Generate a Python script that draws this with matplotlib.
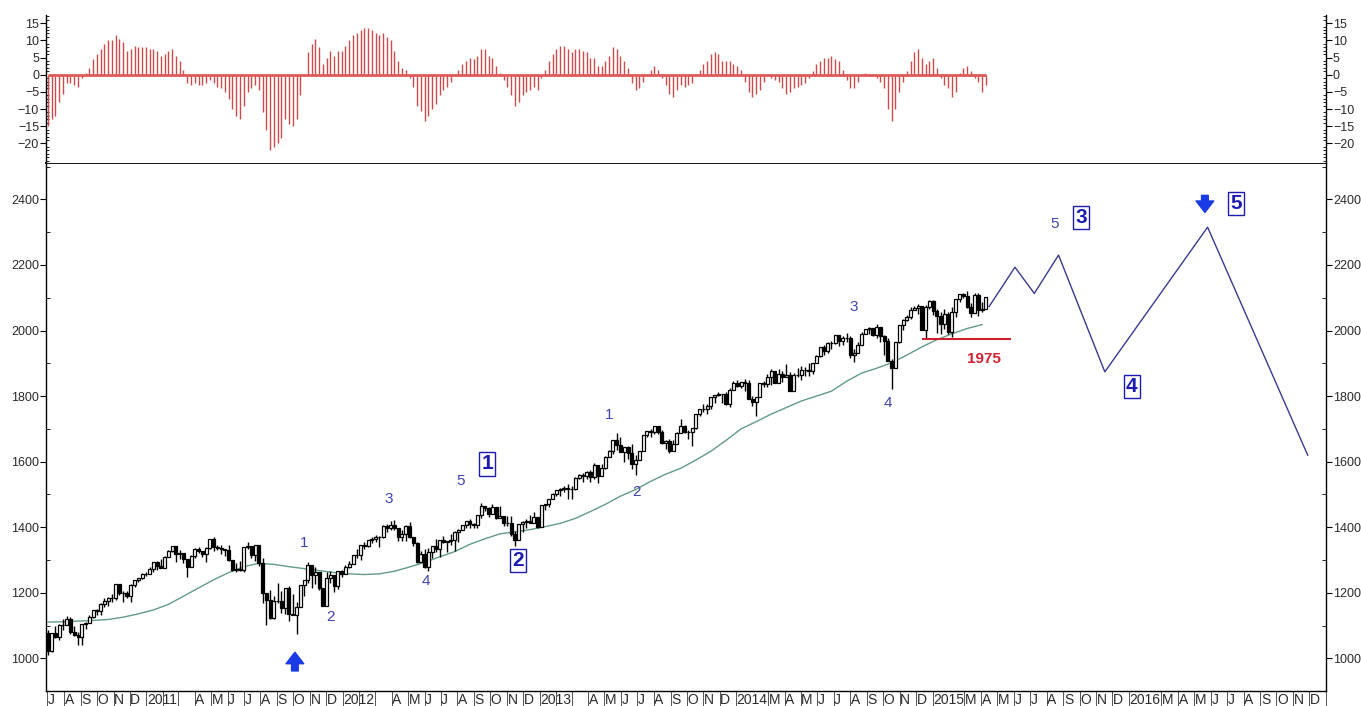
import matplotlib
matplotlib.use('Agg')
import matplotlib.pyplot as plt
import numpy as np
import pandas as pd

plt.rcParams['font.family'] = ['Liberation Sans', 'DejaVu Sans']

# ---------------- data ----------------
week_dates = pd.date_range('2010-07-02', periods=250, freq='W-FRI')

first_open = 1076.8
closes = [
    1022.6, 1078.0, 1064.9, 1102.7, 1101.6, 1121.6, 1079.3, 1071.7, 1064.6, 1104.5,
    1109.6, 1125.6, 1148.7, 1146.2, 1165.2, 1176.2, 1183.1, 1183.3, 1225.9, 1199.2,
    1199.7, 1189.4, 1224.7, 1240.4, 1243.9, 1256.8, 1257.6,
    1271.5, 1293.2, 1283.4, 1276.3, 1310.9, 1329.2, 1343.0, 1319.9, 1321.2, 1304.3,
    1279.2, 1313.8, 1332.4, 1328.2, 1319.7, 1337.4, 1363.6, 1340.2, 1337.8, 1333.3,
    1331.1, 1300.2, 1271.0, 1271.5, 1268.5, 1339.7, 1343.8, 1316.1, 1345.0, 1292.3,
    1199.4, 1178.8, 1123.5, 1176.8, 1174.0, 1154.2, 1216.0, 1136.4, 1131.4, 1155.5,
    1224.6, 1238.3, 1285.1, 1253.2, 1263.9, 1215.7, 1158.7, 1244.3, 1255.2, 1219.7,
    1265.3, 1257.6,
    1277.8, 1289.1, 1315.4, 1316.3, 1344.9, 1342.6, 1361.2, 1365.7, 1369.6, 1370.9,
    1404.2, 1397.1, 1408.5, 1398.1, 1370.3, 1378.5, 1403.4, 1369.1, 1353.4, 1295.2,
    1317.8, 1278.0, 1325.7, 1342.8, 1335.0, 1362.2, 1354.7, 1356.8, 1362.7, 1386.0,
    1391.0, 1405.9, 1418.2, 1411.1, 1406.6, 1437.9, 1465.8, 1460.2, 1440.7, 1460.9,
    1428.6, 1433.2, 1411.9, 1414.2, 1379.9, 1359.9, 1409.2, 1416.2, 1418.1, 1413.6,
    1430.2, 1402.4,
    1466.5, 1472.1, 1486.0, 1503.0, 1513.2, 1517.9, 1519.8, 1515.6, 1518.2, 1551.2,
    1560.7, 1556.9, 1569.2, 1553.3, 1588.9, 1555.3, 1582.2, 1614.4, 1633.7, 1667.5,
    1649.6, 1630.7, 1643.4, 1626.7, 1592.4, 1606.3, 1631.9, 1680.2, 1692.1, 1691.7,
    1709.7, 1691.4, 1655.8, 1663.5, 1633.0, 1655.2, 1688.0, 1709.9, 1691.8, 1690.5,
    1703.2, 1744.5, 1759.8, 1761.6, 1770.6, 1798.2, 1804.8, 1805.8, 1805.1, 1775.3,
    1818.3, 1841.4,
    1831.4, 1842.4, 1838.7, 1790.3, 1782.6, 1797.0, 1838.6, 1836.3, 1859.5, 1878.0,
    1841.1, 1866.5, 1857.6, 1865.1, 1815.7, 1864.9, 1863.4, 1881.1, 1878.5, 1877.9,
    1900.5, 1923.6, 1949.4, 1936.2, 1962.9, 1961.0, 1985.4, 1967.6, 1978.2, 1978.3,
    1925.2, 1931.6, 1955.1, 1988.4, 2003.4, 2007.7, 1985.5, 2010.4, 1982.9, 1967.9,
    1906.1, 1886.8, 1964.6, 2018.1, 2031.9, 2039.8, 2063.5, 2067.6, 2075.4, 2002.3,
    2070.7, 2088.8,
    2058.2, 2044.8, 2019.4, 2051.8, 1995.0, 2055.5, 2097.0, 2110.3, 2104.5, 2071.3,
    2053.4, 2108.1, 2061.0, 2067.0, 2102.1,
]
highs = [
    1086.0, 1078.5, 1099.0, 1103.7, 1120.9, 1129.2, 1127.3, 1100.0, 1081.0, 1105.1,
    1110.9, 1131.5, 1148.9, 1151.4, 1167.7, 1184.4, 1186.7, 1196.1, 1227.1, 1227.1,
    1206.4, 1207.1, 1225.6, 1240.4, 1246.7, 1259.3, 1262.6,
    1278.2, 1293.2, 1296.7, 1302.7, 1311.0, 1330.8, 1344.1, 1339.0, 1332.3, 1322.4,
    1304.3, 1314.8, 1337.9, 1339.5, 1328.2, 1339.9, 1364.6, 1370.6, 1346.8, 1346.2,
    1334.5, 1345.2, 1300.2, 1292.5, 1298.6, 1341.0, 1356.5, 1343.8, 1347.0, 1344.3,
    1307.4, 1199.4, 1208.5, 1190.7, 1230.7, 1204.4, 1216.0, 1220.4, 1195.9, 1171.4,
    1224.6, 1238.4, 1292.7, 1285.1, 1277.6, 1264.3, 1215.7, 1264.9, 1267.1, 1255.2,
    1265.4, 1269.4,
    1284.6, 1296.8, 1315.5, 1333.5, 1345.3, 1354.3, 1361.2, 1368.9, 1378.0, 1374.0,
    1405.9, 1409.8, 1419.2, 1422.4, 1398.1, 1392.8, 1406.6, 1415.3, 1369.1, 1353.7,
    1328.5, 1334.9, 1335.5, 1343.4, 1363.5, 1362.2, 1374.8, 1356.8, 1380.4, 1389.2,
    1394.2, 1407.1, 1418.7, 1426.7, 1413.5, 1438.0, 1474.5, 1465.8, 1463.2, 1470.0,
    1460.9, 1464.0, 1433.2, 1434.3, 1433.4, 1388.8, 1409.2, 1419.7, 1424.0, 1438.6,
    1448.0, 1430.2,
    1467.9, 1472.3, 1486.0, 1503.3, 1514.4, 1518.3, 1524.7, 1530.9, 1525.8, 1552.5,
    1563.6, 1564.9, 1570.3, 1573.7, 1597.4, 1588.9, 1592.6, 1618.5, 1635.0, 1667.5,
    1687.2, 1674.2, 1644.4, 1648.7, 1654.2, 1620.0, 1632.1, 1680.2, 1693.1, 1698.8,
    1709.7, 1709.2, 1696.8, 1664.9, 1669.5, 1664.8, 1689.9, 1729.9, 1712.5, 1697.0,
    1703.4, 1745.3, 1759.8, 1775.2, 1774.5, 1798.2, 1804.8, 1813.6, 1805.8, 1811.5,
    1823.8, 1844.9,
    1849.4, 1843.2, 1850.8, 1849.3, 1798.8, 1798.0, 1840.8, 1847.5, 1867.9, 1883.6,
    1878.0, 1883.9, 1875.2, 1897.3, 1872.5, 1869.6, 1884.9, 1891.3, 1889.1, 1902.2,
    1901.3, 1924.0, 1949.4, 1955.6, 1963.9, 1968.2, 1985.6, 1985.4, 1983.9, 1991.4,
    1984.6, 1942.9, 1964.0, 1994.8, 2005.0, 2011.2, 2007.7, 2019.3, 2010.4, 1986.1,
    1977.6, 1912.1, 1965.3, 2018.2, 2034.3, 2046.2, 2071.5, 2075.8, 2079.5, 2075.8,
    2077.9, 2093.6,
    2093.5, 2064.4, 2056.9, 2064.6, 2057.6, 2072.4, 2097.0, 2110.6, 2115.5, 2119.6,
    2083.0, 2114.9, 2113.0, 2088.3, 2102.6,
]
lows = [
    1010.9, 1018.4, 1063.0, 1056.9, 1088.0, 1105.0, 1075.3, 1069.0, 1039.7, 1040.9,
    1091.0, 1107.0, 1122.0, 1131.9, 1131.9, 1155.7, 1159.7, 1171.7, 1177.7, 1194.1,
    1173.0, 1185.0, 1173.6, 1217.2, 1232.8, 1242.8, 1252.6,
    1257.6, 1262.7, 1271.3, 1275.0, 1276.2, 1311.7, 1323.5, 1294.3, 1302.4, 1291.6,
    1249.1, 1279.0, 1307.6, 1322.9, 1309.9, 1294.7, 1332.5, 1329.2, 1329.9, 1318.5,
    1311.8, 1296.7, 1268.0, 1262.7, 1267.4, 1262.7, 1334.0, 1307.2, 1295.9, 1282.9,
    1168.1, 1101.5, 1121.0, 1121.1, 1169.6, 1140.1, 1136.1, 1114.2, 1131.1, 1074.8,
    1155.5, 1191.5, 1231.5, 1215.4, 1226.6, 1209.4, 1158.7, 1158.7, 1231.5, 1202.4,
    1212.6, 1248.6,
    1257.6, 1274.6, 1289.1, 1306.1, 1300.5, 1335.0, 1340.8, 1352.3, 1354.3, 1340.0,
    1366.7, 1385.8, 1391.6, 1393.1, 1357.4, 1358.8, 1358.8, 1367.7, 1343.1, 1291.7,
    1295.2, 1277.0, 1266.7, 1306.6, 1324.4, 1309.3, 1353.1, 1325.4, 1345.1, 1329.2,
    1354.7, 1391.0, 1397.3, 1398.0, 1397.0, 1396.6, 1429.1, 1449.6, 1432.7, 1440.7,
    1425.5, 1427.2, 1403.3, 1403.1, 1373.0, 1343.4, 1359.9, 1385.4, 1398.2, 1412.7,
    1413.6, 1398.1,
    1402.4, 1451.6, 1461.0, 1485.0, 1494.3, 1495.0, 1508.8, 1485.0, 1485.0, 1512.5,
    1547.4, 1538.6, 1546.2, 1539.5, 1548.3, 1536.0, 1555.3, 1576.9, 1614.4, 1622.7,
    1635.5, 1630.7, 1598.2, 1608.1, 1577.7, 1560.3, 1604.6, 1631.9, 1676.0, 1676.3,
    1684.2, 1684.9, 1654.2, 1639.4, 1627.5, 1633.0, 1655.2, 1688.0, 1687.0, 1670.4,
    1646.5, 1700.7, 1740.5, 1752.7, 1746.2, 1760.6, 1780.0, 1800.0, 1779.2, 1772.3,
    1767.4, 1818.3,
    1827.7, 1823.7, 1815.5, 1790.3, 1770.5, 1737.9, 1797.0, 1826.6, 1828.7, 1834.4,
    1839.6, 1839.5, 1842.1, 1857.6, 1814.4, 1815.7, 1858.7, 1850.6, 1859.8, 1862.4,
    1868.1, 1900.5, 1920.0, 1925.8, 1930.0, 1944.7, 1958.2, 1952.9, 1955.6, 1965.8,
    1916.4, 1904.8, 1931.6, 1955.1, 1988.4, 1990.0, 1983.5, 1978.5, 1965.0, 1926.0,
    1906.0, 1820.7, 1886.8, 1961.0, 2001.0, 2030.0, 2034.5, 2062.0, 2049.6, 2002.3,
    1972.6, 2066.3,
    2046.0, 1992.4, 1988.1, 2004.5, 1989.2, 1980.9, 2041.9, 2085.4, 2098.0, 2067.3,
    2039.7, 2053.4, 2045.5, 2057.6, 2067.0,
]

# oscillator (top panel), one value per week
osc_values = [
    -15, -13, -12, -8, -5.5, -2.5, -2.5, -3, -3.5, -1,
    0.5, 2, 4.5, 6, 7.5, 9, 10, 10, 11.5, 10.5,
    9.5, 7, 7.5, 8.5, 8, 8, 8, 7.5, 7.5, 7,
    5.5, 6, 7, 7.5, 5.5, 4, 1.5, -2.5, -3, -2.5,
    -3, -3, -2.5, -1.5, -2.5, -3.5, -4, -5, -7, -10,
    -12, -13, -9, -5, -4, -3, -4.5, -11, -16, -22,
    -21, -20, -18.5, -13, -14.5, -15, -13, -6, 0.3, 6.5,
    9, 10.5, 8, 3, 5, 7, 5.5, 7, 7, 8.5,
    10, 11.5, 12, 13, 13.5, 13.5, 13, 12, 11.5, 12,
    11, 10, 7, 4, 2, 1.5, -1, -3.5, -9, -10.5,
    -13.5, -12, -10, -8.5, -6, -4.5, -3.5, -2, 0.3, 1.5,
    3, 4, 5, 4.5, 5.5, 7.5, 7.5, 5.5, 5, 2.5,
    0.5, -1.5, -3.5, -6, -9, -8, -6, -5, -4.5, -3.5,
    -4.5, -1, 1.5, 4, 6, 7.5, 8.5, 8.5, 7.5, 6.5,
    7.5, 7.5, 7, 6.5, 5, 5, 2.5, 2.5, 4, 5.5,
    8,
    7.5, 5.5, 4, 2, -2.5, -4.5, -4, -2, 0.3, 1.5,
    2.5, 1.5, -1, -3, -5.5, -6.5, -4.5, -3, -3.5, -3,
    -2.5, 0.3, 1.5, 3, 4, 6, 6.5, 6, 4, 4,
    4, 3, 2.5, 1.5, -2, -5, -6.5, -5.5, -4.5, -2,
    0.3, -1, -1.5, -2, -4, -5.5, -5, -4, -3.5, -3,
    -2.5, -1, 1, 3, 4, 5, 5, 5.5, 4.5, 4,
    1.5, -1.5, -4, -4, -2, -0.5, 0.5, 0.3, 0.3, -1, -2,
    -4, -10, -13.5, -10, -5, -2, 1, 4, 6.5, 7.5,
    5, 3, 4, 5, 2, -1, -3, -4, -6.5, -5,
    0.5, 2, 2.5, 1, -1, -2, -5, -3,
]

# moving average line, read every 4th week
ma_dates = week_dates[::4]
ma_values = [
    1111, 1112, 1114, 1116, 1119, 1126, 1136, 1148, 1165, 1190,
    1215, 1240, 1262, 1280, 1290, 1287, 1280, 1274, 1268, 1262,
    1258, 1256, 1258, 1266, 1279, 1293, 1310, 1326, 1348, 1365,
    1380, 1386, 1393, 1402, 1412, 1427, 1448, 1470, 1495, 1515,
    1540, 1562, 1580, 1605, 1632, 1665, 1700, 1722, 1745, 1765,
    1785, 1800, 1815, 1845, 1870, 1885, 1902, 1925, 1950, 1972,
    1990, 2006, 2018,
]

# projected path
proj_dates = pd.to_datetime(['2015-04-16', '2015-06-03', '2015-07-09', '2015-08-23',
                             '2015-11-17', '2016-05-26', '2016-11-28'])
proj_values = [2073, 2193, 2113, 2230, 1874, 2315, 1620]

support_level = 1975
support_start, support_end = pd.Timestamp('2014-12-12'), pd.Timestamp('2015-05-26')

wave_labels = [  # text, date, value, boxed
    ('1', '2011-10-22', 1353, False), ('2', '2011-12-09', 1126, False),
    ('3', '2012-03-27', 1486, False), ('4', '2012-06-04', 1237, False),
    ('5', '2012-08-07', 1542, False), ('1', '2012-09-25', 1593, True),
    ('2', '2012-11-22', 1299, True), ('1', '2013-05-09', 1742, False),
    ('2', '2013-06-30', 1508, False), ('3', '2014-08-07', 2073, False),
    ('4', '2014-10-10', 1778, False), ('5', '2015-08-16', 2324, False),
    ('3', '2015-10-04', 2344, True), ('4', '2016-01-06', 1829, True),
    ('5', '2016-07-18', 2388, True),
]

month_letters = ['J', 'F', 'M', 'A', 'M', 'J', 'J', 'A', 'S', 'O', 'N', 'D']

# ---------------- figure ----------------
fig = plt.figure(figsize=(13.61, 7.06), dpi=100)
L, W = 46 / 1361, 1280 / 1361
ax = fig.add_axes([L, 15.3 / 706, W, 527.4 / 706])
axo = fig.add_axes([L, 542.7 / 706, W, 148 / 706])

xmin, xmax = pd.Timestamp('2010-06-28 12:00'), pd.Timestamp('2017-01-01')
tick_col = '#2a2a2a'

# ---- oscillator panel ----
axo.vlines(week_dates, 0, osc_values, color='#cc4c4c', lw=1.0)
axo.hlines(0, week_dates[0], week_dates[-1], color='#e05a5a', lw=2.0, zorder=3)
axo.set_xlim(xmin, xmax)
axo.set_ylim(-25.8, 17.3)
axo.set_yticks(np.arange(-20, 16, 5))
axo.set_yticks(np.arange(-25, 18, 1), minor=True)
axo.tick_params(axis='y', which='major', direction='out', length=4, width=0.8,
                labelsize=9, labelcolor=tick_col, left=True, right=True,
                labelleft=True, labelright=True, pad=1)
axo.tick_params(axis='y', which='minor', direction='in', length=2, width=0.6,
                left=True, right=True)
axo.xaxis.set_visible(False)
axo.spines['top'].set_visible(False)
axo.spines['bottom'].set_visible(False)
for s in ('left', 'right'):
    axo.spines[s].set_linewidth(1.0)

# ---- main price panel ----
o = np.array([first_open] + closes[:-1])
c = np.array(closes)
h = np.array(highs)
lo = np.array(lows)
up = c >= o
ax.vlines(week_dates, lo, h, color='black', lw=1.0, zorder=2)
ax.bar(week_dates, np.abs(c - o), bottom=np.minimum(o, c), width=5.6,
       color=np.where(up, 'white', 'black'), edgecolor='black', linewidth=0.9, zorder=3)

ax.plot(ma_dates, ma_values, color='#629c84', lw=1.0, zorder=1)
ax.plot(proj_dates, proj_values, color='#3a3a92', lw=1.0, zorder=2)
ax.hlines(support_level, support_start, support_end, color='#cc2030', lw=1.5, zorder=2)
ax.text(pd.Timestamp('2015-04-06'), 1912, str(support_level), color='#d42030',
        fontsize=11, fontweight='bold', ha='center', va='center')

for txt, d, v, boxed in wave_labels:
    if boxed:
        ax.text(pd.Timestamp(d), v, txt, fontsize=15, fontweight='bold', color='#1c1cb4',
                ha='center', va='center',
                bbox=dict(boxstyle='square,pad=0.1', fc='white', ec='#1c1cb4', lw=1.0))
    else:
        ax.text(pd.Timestamp(d), v, txt, fontsize=11, color='#4242b0',
                ha='center', va='center')

arrow_style = 'simple,head_length=0.55,head_width=0.85,tail_width=0.32'
ax.annotate('', xy=(pd.Timestamp('2011-10-04'), 1019), xytext=(pd.Timestamp('2011-10-04'), 962),
            arrowprops=dict(arrowstyle=arrow_style, color='#1a3ae6', mutation_scale=15,
                            shrinkA=0, shrinkB=0))
ax.annotate('', xy=(pd.Timestamp('2016-05-21'), 2360), xytext=(pd.Timestamp('2016-05-21'), 2412),
            arrowprops=dict(arrowstyle=arrow_style, color='#1a3ae6', mutation_scale=15,
                            shrinkA=0, shrinkB=0))

ax.set_xlim(xmin, xmax)
ax.set_ylim(901.8, 2509.8)
ax.set_yticks(np.arange(1000, 2401, 200))
ax.set_yticks(np.arange(1100, 2501, 200), minor=True)
ax.tick_params(axis='y', which='major', direction='out', length=4, width=0.8,
               labelsize=9, labelcolor=tick_col, left=True, right=True,
               labelleft=True, labelright=True, pad=1)
ax.tick_params(axis='y', which='minor', direction='in', length=3, width=0.6,
               left=True, right=True)

# month separators and labels
month_starts = pd.date_range('2010-07-01', '2017-01-01', freq='MS')
labels = []
for m in month_starts[:-1]:
    if m.month == 1:
        labels.append(str(m.year))
    elif m.month == 2:
        labels.append('')
    elif m.month == 3 and m.year < 2014:
        labels.append('')
    else:
        labels.append(month_letters[m.month - 1])
separators = [m for m in month_starts if not (m.month == 2 and m.year >= 2014)]
ax.set_xticks(separators)
ax.set_xticklabels([])
ax.set_xticks(month_starts[:-1] + pd.Timedelta(days=1), minor=True)
ax.set_xticklabels(labels, minor=True)
ax.tick_params(axis='x', which='major', direction='out', length=14, width=0.7, color='#555555')
ax.tick_params(axis='x', which='minor', length=0, pad=1.5, labelsize=10, labelcolor=tick_col)
for lab in ax.get_xticklabels(minor=True):
    lab.set_horizontalalignment('left')

for s in ('left', 'right', 'bottom'):
    ax.spines[s].set_linewidth(1.0)
ax.spines['top'].set_linewidth(1.3)

fig.savefig('out.png', dpi=100)
